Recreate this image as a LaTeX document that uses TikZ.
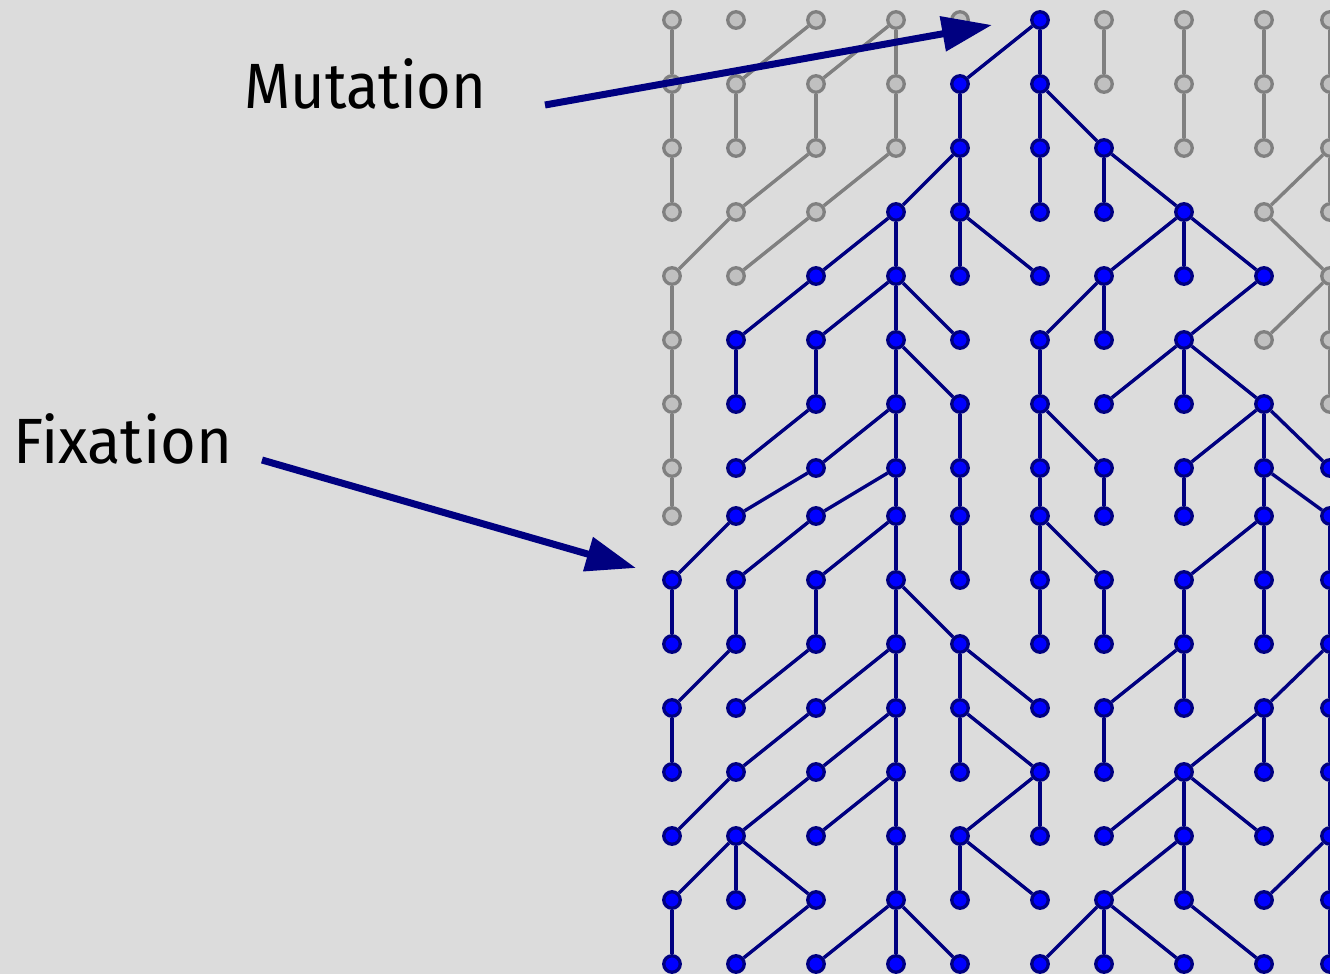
\documentclass[tikz,border=0pt]{standalone}
\usepackage{fontspec}
\setsansfont{Fira Sans}
\usetikzlibrary{arrows.meta}
\definecolor{bgc}{HTML}{DCDCDC}
\definecolor{navyc}{HTML}{000080}
\definecolor{bluec}{HTML}{0000FF}
\definecolor{gline}{HTML}{808080}
\definecolor{gfill}{HTML}{C0C0C0}
\begin{document}
\begin{tikzpicture}[x=1pt,y=-1pt,
  g-node/.style={circle,draw=gline,fill=gfill,line width=3.3pt,minimum size=16.5pt,inner sep=0pt},
  b-node/.style={circle,draw=navyc,fill=bluec,line width=3.3pt,minimum size=16.5pt,inner sep=0pt},
  g-edge/.style={draw=gline,line width=3.4pt},
  b-edge/.style={draw=navyc,line width=3.4pt},
  label/.style={font=\sffamily\fontsize{64}{64}\selectfont,anchor=base west,inner sep=0pt},
  bigarrow/.style={draw=navyc,line width=7pt,-{Triangle[length=50pt,width=34pt]}}]
\fill[bgc] (0,0) rectangle (1330,974);
\useasboundingbox (0,0) rectangle (1330,974);
\def\xlist{{672,736,816,896,960,1040,1104,1184,1264,1330}}
\def\ylist{{20,84,148,212,276,340,404,468,516,580,644,708,772,836,900,964}}
% first generation: only one individual carries the new allele
\foreach \k [count=\c from 0] in {g,g,g,g,g,b,g,g,g,g}{
  \pgfmathsetmacro\px{\xlist[\c]}
  \pgfmathsetmacro\py{\ylist[0]}
  \node[\k-node] (n0-\c) at (\px,\py) {};
}
% later generations: parent column / lineage colour for each individual
\foreach \r/\row in {
  1/{0/g,2/g,3/g,3/g,5/b,5/b,6/g,7/g,8/g,9/g},
  2/{0/g,1/g,2/g,3/g,4/b,5/b,5/b,7/g,8/g,9/g},
  3/{0/g,2/g,3/g,4/b,4/b,5/b,6/b,6/b,9/g,9/g},
  4/{1/g,2/g,3/b,3/b,4/b,4/b,7/b,7/b,7/b,8/g},
  5/{0/g,2/b,3/b,3/b,3/b,6/b,6/b,8/b,9/g,9/g},
  6/{0/g,1/b,2/b,3/b,3/b,5/b,7/b,7/b,7/b,9/g},
  7/{0/g,2/b,3/b,3/b,4/b,5/b,5/b,8/b,8/b,8/b},
  8/{0/g,2/b,3/b,3/b,4/b,5/b,6/b,7/b,8/b,8/b},
  9/{1/b,2/b,3/b,3/b,4/b,5/b,5/b,8/b,8/b,9/b},
  10/{0/b,1/b,2/b,3/b,3/b,5/b,6/b,7/b,8/b,9/b},
  11/{1/b,2/b,3/b,3/b,4/b,4/b,7/b,7/b,9/b,9/b},
  12/{0/b,2/b,3/b,3/b,4/b,4/b,6/b,8/b,8/b,9/b},
  13/{1/b,2/b,3/b,3/b,5/b,5/b,7/b,7/b,7/b,9/b},
  14/{1/b,1/b,1/b,3/b,4/b,4/b,7/b,7/b,9/b,9/b},
  15/{0/b,2/b,3/b,3/b,3/b,6/b,6/b,6/b,7/b,9/b}}{
  \pgfmathtruncatemacro\pr{\r-1}
  \foreach \p/\k [count=\c from 0] in \row {
    \pgfmathsetmacro\px{\xlist[\c]}
    \pgfmathsetmacro\py{\ylist[\r]}
    \node[\k-node] (n\r-\c) at (\px,\py) {};
    \draw[\k-edge] (n\r-\c) -- (n\pr-\p);
  }
}
% annotations
\node[label] (mutLabel) at (244,108) {\scalebox{0.93}[1]{Mutation}};
\node[label] (fixLabel) at (13,463) {\scalebox{0.96}[1]{Fixation}};
\coordinate (mutTail) at (545,105);
\coordinate (mutTip) at (992,25);
\coordinate (fixTail) at (262,460);
\coordinate (fixTip) at (636,568);
\draw[bigarrow] (mutTail) -- (mutTip);
\draw[bigarrow] (fixTail) -- (fixTip);
\end{tikzpicture}
\end{document}
